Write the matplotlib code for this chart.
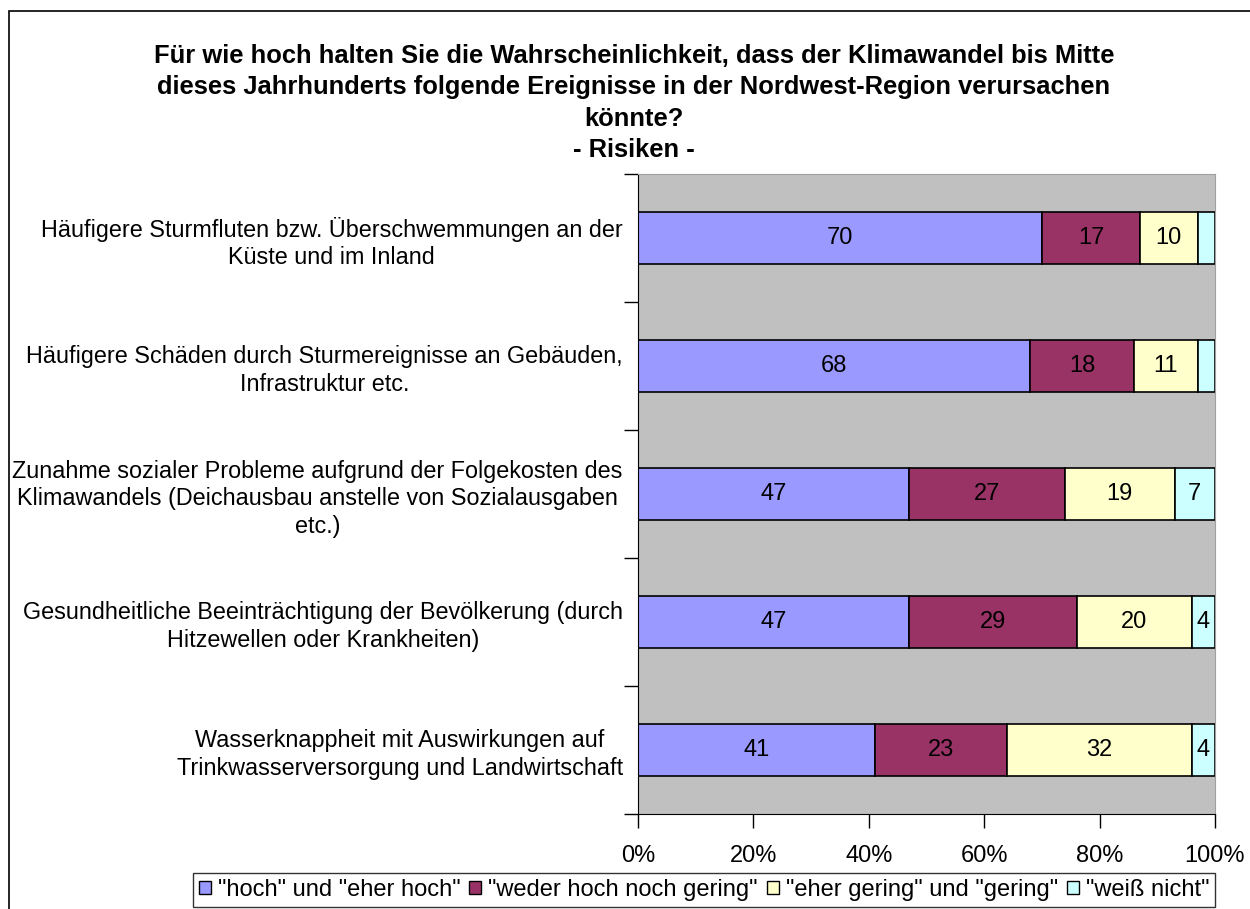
import matplotlib.pyplot as plt
from matplotlib.patches import Rectangle, Patch
import numpy as np

plt.rcParams['font.family'] = ['Liberation Sans', 'DejaVu Sans']

categories = [
    "Häufigere Sturmfluten bzw. Überschwemmungen an der\nKüste und im Inland",
    "Häufigere Schäden durch Sturmereignisse an Gebäuden,\nInfrastruktur etc.",
    "Zunahme sozialer Probleme aufgrund der Folgekosten des\nKlimawandels (Deichausbau anstelle von Sozialausgaben\netc.)",
    "Gesundheitliche Beeinträchtigung der Bevölkerung (durch\nHitzewellen oder Krankheiten)",
    "Wasserknappheit mit Auswirkungen auf\nTrinkwasserversorgung und Landwirtschaft",
]
series_names = ['"hoch" und "eher hoch"', '"weder hoch noch gering"',
                '"eher gering" und "gering"', '"weiß nicht"']
hoch = [70, 68, 47, 47, 41]
weder = [17, 18, 27, 29, 23]
gering = [10, 11, 19, 20, 32]
weiss = [3, 3, 7, 4, 4]
colors = ['#9999FF', '#993366', '#FFFFCC', '#CCFFFF']

title_lines = [
    "Für wie hoch halten Sie die Wahrscheinlichkeit, dass der Klimawandel bis Mitte",
    "dieses Jahrhunderts folgende Ereignisse in der Nordwest-Region verursachen",
    "könnte?",
    "- Risiken -",
]

W, H = 1250, 909
fig = plt.figure(figsize=(12.5, 9.09), dpi=100)
ax = fig.add_axes([638 / W, 1 - 814 / H, (1215 - 638) / W, (814 - 174) / H])
ax.set_facecolor('#C0C0C0')

y = np.arange(len(categories))
left = np.zeros(len(categories))
handles = []
for vals, col, name in zip([hoch, weder, gering, weiss], colors, series_names):
    bars = ax.barh(y, vals, left=left, height=0.41, color=col, edgecolor='black', linewidth=1.2)
    for b, v in zip(bars, vals):
        if v >= 4:
            ax.text(b.get_x() + b.get_width() / 2, b.get_y() + b.get_height() / 2, str(v),
                    ha='center', va='center', fontsize=17)
    left += np.array(vals)
    handles.append(Patch(facecolor=col, edgecolor='black', label=name))

ax.set_xlim(0, 100)
ax.set_ylim(len(categories) - 0.5, -0.5)
ax.set_xticks(np.arange(0, 101, 20))
ax.set_xticklabels([f"{t}%" for t in range(0, 101, 20)], fontsize=17)
ax.set_yticks(y)
ax.set_yticklabels(categories, fontsize=16.8, multialignment='center', linespacing=1.25)
ax.set_yticks(np.arange(-0.5, len(categories)), minor=True)
ax.tick_params(axis='y', which='major', length=0, pad=11)
ax.tick_params(axis='y', which='minor', length=10, width=1)
ax.tick_params(axis='x', length=10, width=1, pad=12)
ax.spines['left'].set_color('black')
ax.spines['bottom'].set_color('black')
for s in ['top', 'right']:
    ax.spines[s].set_color('#A0A0A0')

for line, ty in zip(title_lines, [63, 94, 126, 157]):
    fig.text(634 / W, 1 - ty / H, line, ha='center', va='baseline',
             fontsize=18.4, fontweight='bold')

fig.legend(handles=handles, loc='upper left',
           bbox_to_anchor=(193 / W, 1 - 873 / H, (1215 - 193) / W, 0), mode='expand',
           ncol=4, frameon=True, fontsize=17, handlelength=0.5, handleheight=0.5,
           handletextpad=0.3, columnspacing=0.6, borderpad=0.25, borderaxespad=0,
           fancybox=False, edgecolor='black')

fig.patches.append(Rectangle((9 / W, -0.1), 1.2, 1.1 - 11 / H, transform=fig.transFigure,
                             fill=False, edgecolor='black', linewidth=1.2))

fig.savefig('out.png', dpi=100)
